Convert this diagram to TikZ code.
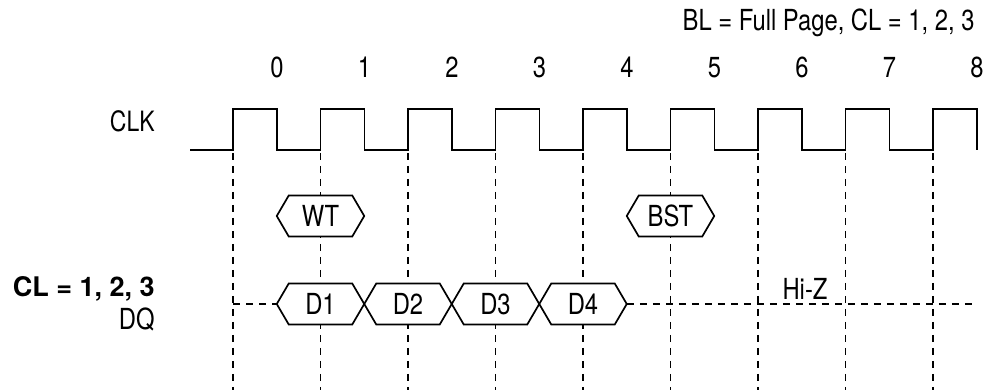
\documentclass[tikz,border=0pt]{standalone}
\usepackage{fontspec}
\setmainfont{TeX Gyre Heros}[FakeStretch=0.82]
\newfontfamily\widefont{TeX Gyre Heros}

\newcommand{\busbox}[4]{%
  \draw[bus] (#2-43.75,#3) coordinate (#1w) -- ++(12,20.5) -- ++(63.5,0)
    -- ++(12,-20.5) coordinate (#1e) -- ++(-12,-20.5) -- ++(-63.5,0) -- cycle;
  \node[lbl] (#1) at (#2,#3) {#4};}

\begin{document}
\begin{tikzpicture}[x=0.5pt,y=0.5pt,font=\fontsize{14.5}{17}\selectfont,
  wire/.style={line width=0.9pt,line join=miter},
  grid/.style={line width=0.6pt,dash pattern=on 3.5pt off 3pt},
  bus/.style={line width=0.85pt,fill=white},
  lbl/.style={inner sep=0pt}]
\useasboundingbox (0,0) rectangle (991,390);

\foreach \i in {0,...,8}
  \draw[grid] ({233+87.5*\i},237) -- ({233+87.5*\i},0);

\draw[wire] (190,240) \foreach \i in {0,...,8} {
  -- ({233+87.5*\i},240) -- ++(0,41) -- ++(44,0) -- ++(0,-41) };

\foreach \i in {0,...,8}
  \node[lbl,anchor=base] (c\i) at ({277+87.5*\i},312) {\i};

\node[lbl,anchor=base east] (title) at (975,359) {BL = Full Page, CL = 1, 2, 3};
\node[lbl,anchor=base east,font=\fontsize{14}{16}\selectfont] (clk) at (155,258) {CLK};
\node[lbl,anchor=base east,font=\fontsize{13.5}{16}\widefont\bfseries] (cl) at (155,93) {CL = 1, 2, 3};
\node[lbl,anchor=base east] (dq) at (155,60) {DQ};

\busbox{wt}{320.5}{174}{WT}
\busbox{bst}{670.5}{174}{BST}

\coordinate (dqin) at (233,86);
\coordinate (dqout) at (977,86);
\draw[grid] (dqin) -- (320.5-43.75,86);
\busbox{d1}{320.5}{86}{D1}
\busbox{d2}{408}{86}{D2}
\busbox{d3}{495.5}{86}{D3}
\busbox{d4}{583}{86}{D4}
\draw[grid] (d4e) -- (dqout);
\node[lbl,anchor=base] (hiz) at (805,90) {Hi-Z};

\end{tikzpicture}
\end{document}
